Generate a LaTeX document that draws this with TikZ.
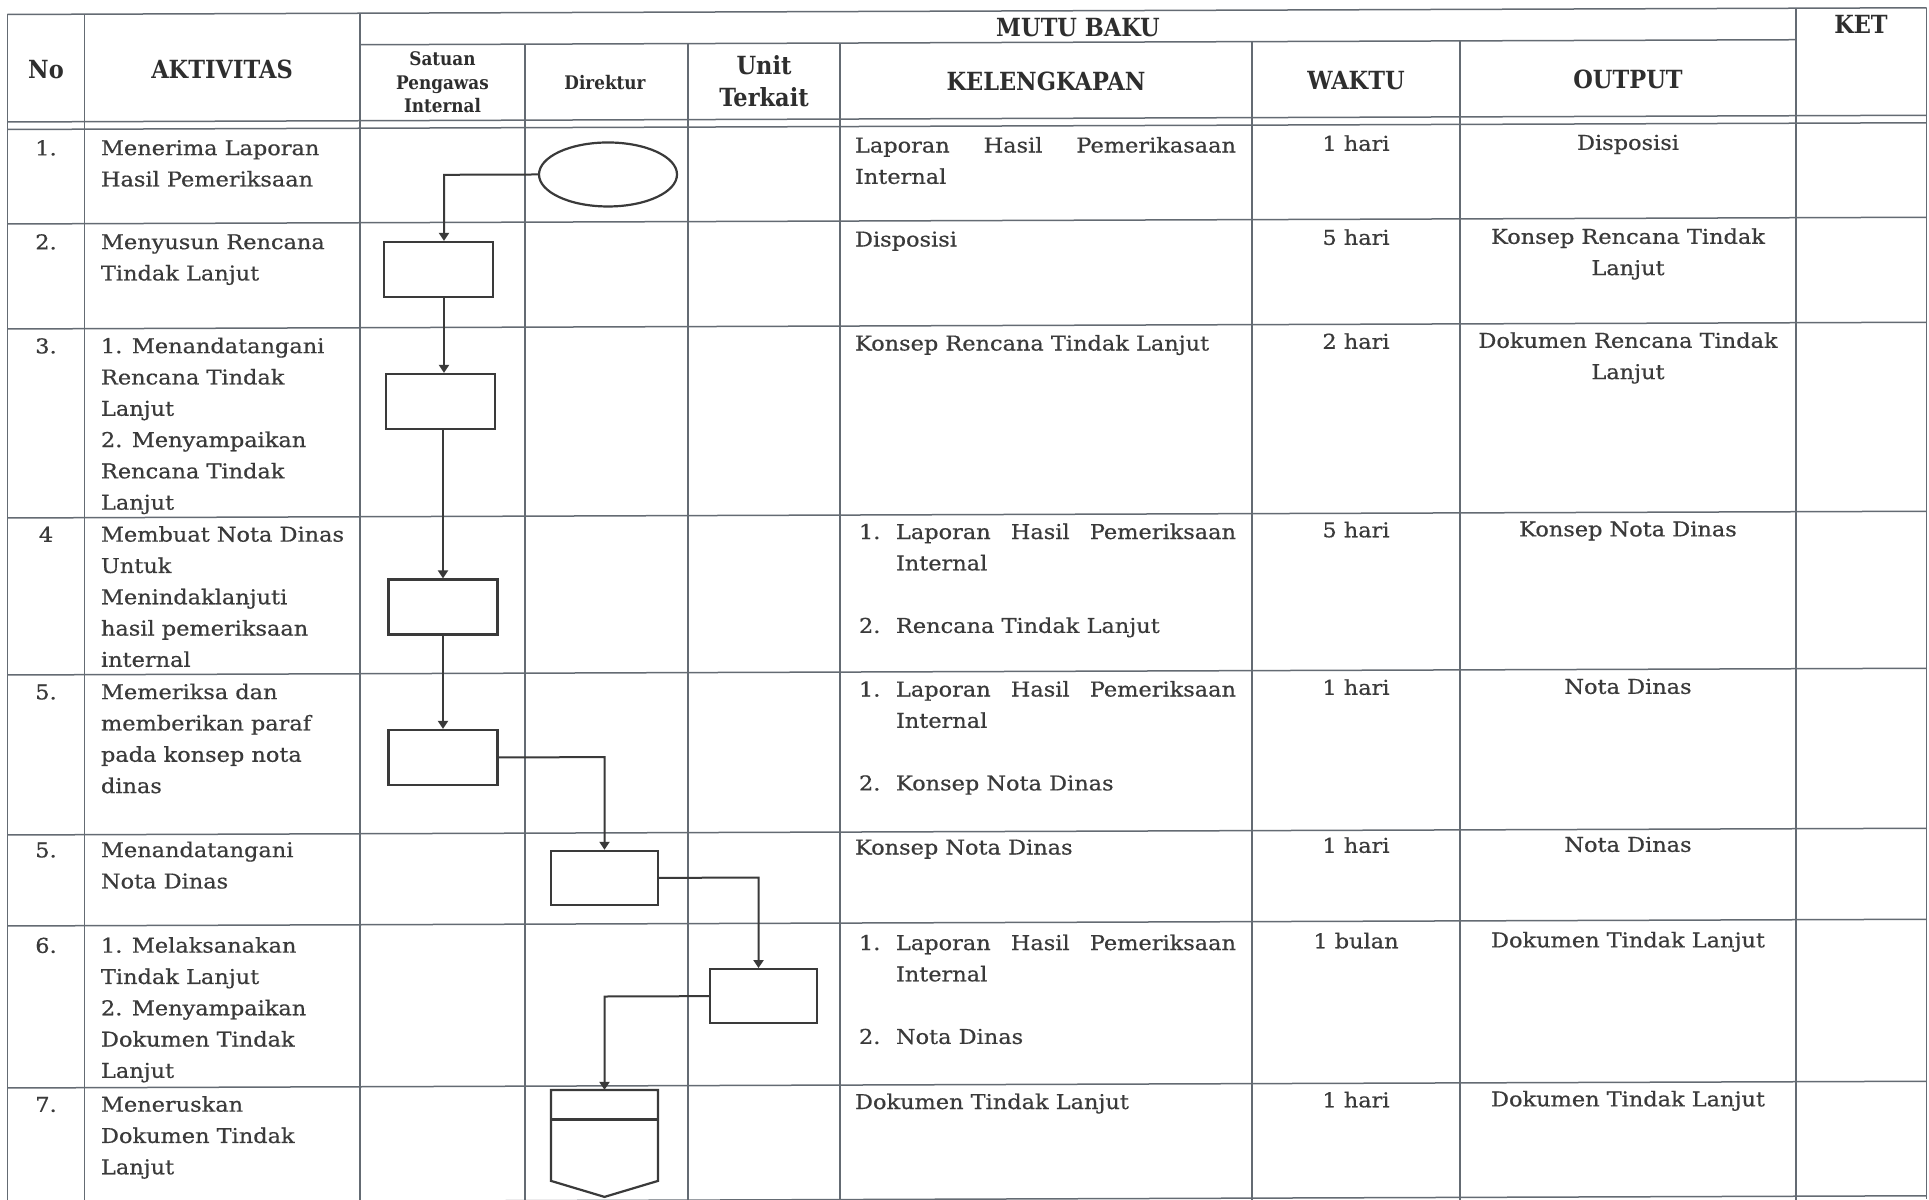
\documentclass[tikz,border=0pt]{standalone}
\usepackage{fontspec}
\setmainfont{DejaVu Serif}[FakeStretch=1.1,FakeBold=0.6]
\newfontfamily\hfont{DejaVu Serif}[FakeStretch=0.9]
\usetikzlibrary{arrows.meta,calc,shapes.geometric}
\definecolor{ink}{HTML}{3A3A3A}
\definecolor{hink}{HTML}{2E2E2E}
\definecolor{gridc}{HTML}{646B73}
\definecolor{shp}{HTML}{3A3A3A}
\newcommand{\Lft}[2][31.3pt]{\vtop{\baselineskip=#1\lineskip=0pt\lineskiplimit=-\maxdimen\halign{##\hfil\cr#2\crcr}}}
\newcommand{\Ctr}[2][31.3pt]{\vtop{\baselineskip=#1\lineskip=0pt\lineskiplimit=-\maxdimen\halign{\hfil##\hfil\cr#2\crcr}}}
\newcommand{\Num}[1]{\makebox[37pt][l]{#1}}
\tikzset{
  txt/.style={inner sep=0pt, outer sep=0pt, text=ink, font=\fontsize{20.4}{31.3}\selectfont},
  hd/.style={inner sep=0pt, outer sep=0pt, text=hink, font=\hfont\bfseries\fontsize{25}{32}\selectfont},
  hs/.style={inner sep=0pt, outer sep=0pt, text=hink, font=\hfont\bfseries\fontsize{18.7}{23.5}\selectfont},
  gridline/.style={draw=gridc, line width=1.5pt},
  box/.style={draw=shp, line width=2.2pt, rectangle, minimum width=109pt, minimum height=55pt, inner sep=0pt},
  term/.style={draw=shp, line width=2.2pt, ellipse, minimum width=138pt, minimum height=64pt, inner sep=0pt},
  arr/.style={draw=shp, line width=2pt, -{Triangle[width=10pt,length=8pt]}},
  ln/.style={draw=shp, line width=2.2pt, line join=miter},
}
\begin{document}
\begin{tikzpicture}[x=1pt,y=-1pt]
\useasboundingbox (0,0) rectangle (1929,1199);
\fill[white] (0,0) rectangle (1929,1199);
\begin{scope}[cm={1,0.0035,0,1,(0,0)}]
% ---------------- grid ----------------
\foreach \x in {7.5,84.5,360,1796,1926.5} \draw[gridline] (\x,14.5) -- (\x,1206);
\foreach \x in {525,688,840,1252,1460} \draw[gridline] (\x,46) -- (\x,1206);
\draw[gridline] (7.5,14.5) -- (1926.5,14.5);
\draw[gridline] (360,46) -- (1796,46);
\foreach \y in {122,129.5,224,329,518,675,835,926,1088,1202.5} \draw[gridline] (7.5,\y) -- (1926.5,\y);
% ---------------- header ----------------
\node[hd, anchor=base] (hno) at (46,78.5) {No};
\node[hd, anchor=base] (hakt) at (222,79) {AKTIVITAS};
\node[hd, anchor=base] (hmutu) at (1078,40) {MUTU BAKU};
\node[hd, anchor=base] (hket) at (1861,40) {KET};
\node[hs, anchor=base] (hsat) at (442.5,67.2) {\Ctr[23.5pt]{Satuan\cr Pengawas\cr Internal}};
\node[hs, anchor=base] (hdir) at (605,92) {Direktur};
\node[hd, anchor=base] (hunit) at (764,76.7) {\Ctr[32pt]{Unit\cr Terkait}};
\node[hd, anchor=base] (hkel) at (1046,94) {KELENGKAPAN};
\node[hd, anchor=base] (hwak) at (1356,94) {WAKTU};
\node[hd, anchor=base] (hout) at (1628,94) {OUTPUT};
% ---------------- numbers ----------------
\node[txt, anchor=base] (n1) at (46,155.5) {1.};
\node[txt, anchor=base] (n2) at (46,249.5) {2.};
\node[txt, anchor=base] (n3) at (46,353.5) {3.};
\node[txt, anchor=base] (n4) at (46,542) {4};
\node[txt, anchor=base] (n5) at (46,699.5) {5.};
\node[txt, anchor=base] (n6) at (46,857.5) {5.};
\node[txt, anchor=base] (n7) at (46,953) {6.};
\node[txt, anchor=base] (n8) at (46,1112) {7.};
% ---------------- activities ----------------
\node[txt, anchor=base west] (a1) at (101,155.5) {\Lft{Menerima Laporan\cr Hasil Pemeriksaan}};
\node[txt, anchor=base west] (a2) at (101,249.5) {\Lft{Menyusun Rencana\cr Tindak Lanjut}};
\node[txt, anchor=base west] (a3) at (101,353.5) {\Lft{1. Menandatangani\cr Rencana Tindak\cr Lanjut\cr 2. Menyampaikan\cr Rencana Tindak\cr Lanjut}};
\node[txt, anchor=base west] (a4) at (101,542) {\Lft{Membuat Nota Dinas\cr Untuk\cr Menindaklanjuti\cr hasil pemeriksaan\cr internal}};
\node[txt, anchor=base west] (a5) at (101,699.5) {\Lft{Memeriksa dan\cr memberikan paraf\cr pada konsep nota\cr dinas}};
\node[txt, anchor=base west] (a6) at (101,857.5) {\Lft{Menandatangani\cr Nota Dinas}};
\node[txt, anchor=base west] (a7) at (101,953) {\Lft{1. Melaksanakan\cr Tindak Lanjut\cr 2. Menyampaikan\cr Dokumen Tindak\cr Lanjut}};
\node[txt, anchor=base west] (a8) at (101,1112) {\Lft{Meneruskan\cr Dokumen Tindak\cr Lanjut}};
% ---------------- kelengkapan ----------------
\node[txt, anchor=base west] (k1) at (855,155.5) {\Lft{\makebox[381pt][s]{Laporan Hasil Pemerikasaan}\cr Internal}};
\node[txt, anchor=base west] (k2) at (855,249.5) {Disposisi};
\node[txt, anchor=base west] (k3) at (855,353.5) {Konsep Rencana Tindak Lanjut};
\node[txt, anchor=base west] (k4) at (859,542) {\Lft{\Num{1.}\makebox[340pt][s]{Laporan Hasil Pemeriksaan}\cr \hspace*{37pt}Internal\cr\cr \Num{2.}Rencana Tindak Lanjut}};
\node[txt, anchor=base west] (k5) at (859,699.5) {\Lft{\Num{1.}\makebox[340pt][s]{Laporan Hasil Pemeriksaan}\cr \hspace*{37pt}Internal\cr\cr \Num{2.}Konsep Nota Dinas}};
\node[txt, anchor=base west] (k6) at (855,857.5) {Konsep Nota Dinas};
\node[txt, anchor=base west] (k7) at (859,953) {\Lft{\Num{1.}\makebox[340pt][s]{Laporan Hasil Pemeriksaan}\cr \hspace*{37pt}Internal\cr\cr \Num{2.}Nota Dinas}};
\node[txt, anchor=base west] (k8) at (855,1112) {Dokumen Tindak Lanjut};
% ---------------- waktu ----------------
\node[txt, anchor=base] (w1) at (1356,155.5) {1 hari};
\node[txt, anchor=base] (w2) at (1356,249.5) {5 hari};
\node[txt, anchor=base] (w3) at (1356,353.5) {2 hari};
\node[txt, anchor=base] (w4) at (1356,542) {5 hari};
\node[txt, anchor=base] (w5) at (1356,699.5) {1 hari};
\node[txt, anchor=base] (w6) at (1356,857.5) {1 hari};
\node[txt, anchor=base] (w7) at (1356,953) {1 bulan};
\node[txt, anchor=base] (w8) at (1356,1112) {1 hari};
% ---------------- output ----------------
\node[txt, anchor=base] (o1) at (1628,155.5) {Disposisi};
\node[txt, anchor=base] (o2) at (1628,249.5) {\Ctr{Konsep Rencana Tindak\cr Lanjut}};
\node[txt, anchor=base] (o3) at (1628,353.5) {\Ctr{Dokumen Rencana Tindak\cr Lanjut}};
\node[txt, anchor=base] (o4) at (1628,542) {Konsep Nota Dinas};
\node[txt, anchor=base] (o5) at (1628,699.5) {Nota Dinas};
\node[txt, anchor=base] (o6) at (1628,857.5) {Nota Dinas};
\node[txt, anchor=base] (o7) at (1628,953) {Dokumen Tindak Lanjut};
\node[txt, anchor=base] (o8) at (1628,1112) {Dokumen Tindak Lanjut};
% ---------------- flowchart ----------------
\node[term] (e1) at (608,176.6) {};
\node[box] (b1) at (438.5,271) {};
\node[box] (b2) at (440.5,403) {};
\node[box] (b3) at (443,608.5) {};
\node[box] (b4) at (443,759) {};
\node[box, minimum width=107pt, minimum height=54pt] (b5) at (604.5,880) {};
\node[box, minimum width=107pt, minimum height=54pt] (b6) at (763.5,998.8) {};
\node[inner sep=0pt, outer sep=0pt, minimum width=107pt, minimum height=107pt] (op) at (604.5,1145.5) {};
\draw[ln] (op.north west) -- (op.north east) -- ([yshift=-91pt]op.north east) -- (op.south) -- ([yshift=-91pt]op.north west) -- cycle;
\draw[ln] ([yshift=-29.6pt]op.north west) -- ([yshift=-29.6pt]op.north east);
\draw[arr] (e1.west) -| ([xshift=5.5pt]b1.north);
\draw[arr] ([xshift=5.5pt]b1.south) -- ([xshift=3.5pt]b2.north);
\draw[arr] ([xshift=2.5pt]b2.south) -- (b3.north);
\draw[arr] (b3.south) -- (b4.north);
\draw[arr] (b4.east) -| (b5.north);
\draw[arr] (b5.east) -| ([xshift=-5pt]b6.north);
\draw[arr] (b6.west) -| (op.north);
\end{scope}
\end{tikzpicture}
\end{document}
